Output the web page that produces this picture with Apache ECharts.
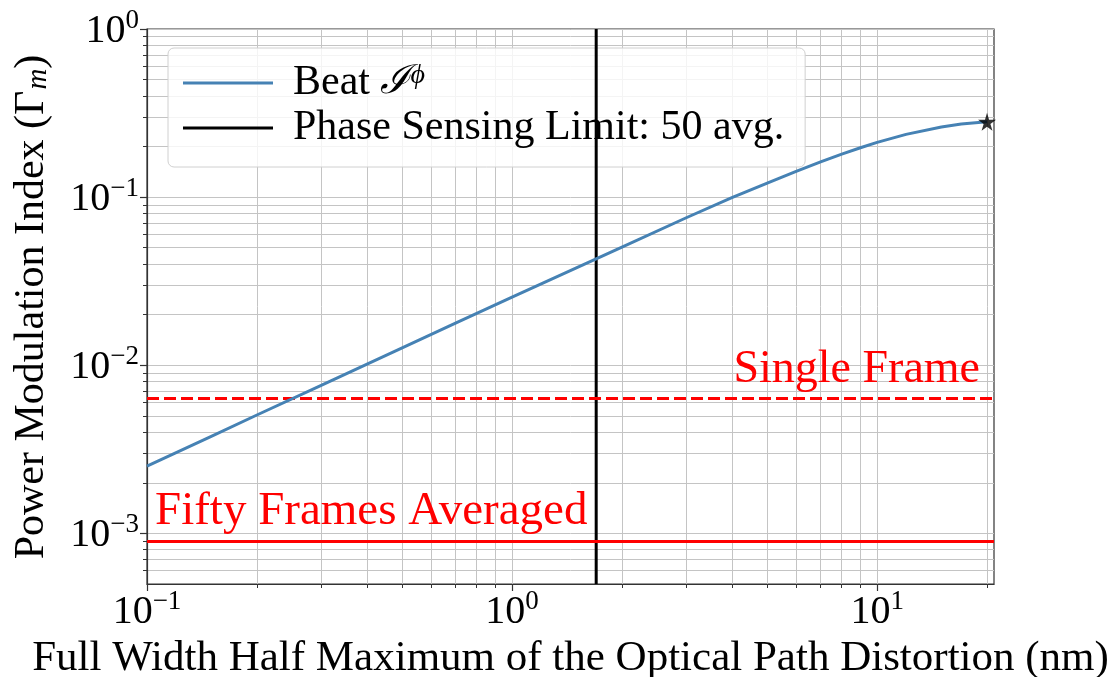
<!DOCTYPE html>
<html><head><meta charset="utf-8">
<script src="https://cdn.jsdelivr.net/npm/echarts@6/dist/echarts.min.js"></script>
<style>html,body{margin:0;padding:0;background:#fff}#c{width:1114px;height:677px}</style>
</head><body><div id="c"></div>
<script>
// ---- data ----
const beatX = [0.1, 0.15, 0.2, 0.3, 0.5, 0.7, 1, 1.5, 2, 3, 4, 5, 6, 7, 8, 9, 10, 12, 15, 17, 20];
const beatY = [0.00251, 0.00378, 0.00506, 0.0076, 0.0127, 0.0178, 0.0254, 0.0380, 0.0504, 0.0754, 0.0992, 0.1212, 0.1423, 0.1620, 0.1803, 0.1967, 0.2117, 0.2361, 0.2616, 0.2723, 0.2804];
const starPoint = [20, 0.2804];
const phaseLimitX = 1.7;
const singleFrameY = 0.00634;
const fiftyFramesY = 0.000903;
const xRange = [0.1, 20.9];
const yRange = [0.0005, 1];
const xMajorTicks = [0.1, 1, 10];
const xMinorTicks = [0.2,0.3,0.4,0.5,0.6,0.7,0.8,0.9,2,3,4,5,6,7,8,9,20];
const yMajorTicks = [0.001, 0.01, 0.1, 1];
const yMinorTicks = [0.0006,0.0007,0.0008,0.0009,0.002,0.003,0.004,0.005,0.006,0.007,0.008,0.009,0.02,0.03,0.04,0.05,0.06,0.07,0.08,0.09,0.2,0.3,0.4,0.5,0.6,0.7,0.8,0.9];
const legendNames = ['Beat', 'Phase Sensing Limit: 50 avg.'];

const FONT = '"Liberation Serif", "DejaVu Serif", serif';
const gridColor = '#c4c4c4';
const spine = '#333333';

function powLabel(v) {
  const e = Math.round(Math.log10(v));
  if (Math.abs(Math.pow(10, e) - v) / v > 1e-6) return '';
  return '{b|10}{s|' + (e < 0 ? '\u2212' + (-e) : e) + '}';
}
const tickRich = {
  b: { fontSize: 40, fontFamily: FONT, color: '#000', lineHeight: 44, verticalAlign: 'bottom' },
  s: { fontSize: 27, fontFamily: FONT, color: '#000', lineHeight: 44, verticalAlign: 'top' }
};

const beatData = beatX.map((x, i) => [x, beatY[i]]);
const chart = echarts.init(document.getElementById('c'), null, { renderer: 'canvas' });
chart.setOption({
  animation: false,
  backgroundColor: '#fff',
  grid: { left: 147, right: 120, top: 29, bottom: 93, containLabel: false, outerBoundsMode: 'none',
    show: true, borderColor: spine, borderWidth: 1.2, backgroundColor: 'transparent' },
  graphic: [{
    type: 'text', silent: true,
    x: 30, y: 307, rotation: Math.PI / 2,
    style: {
      text: '{n|Power Modulation Index (\u0393}{m|m}{n|)}',
      align: 'center', verticalAlign: 'middle',
      fontSize: 42, fontFamily: FONT, fill: '#000',
      rich: {
        n: { fontSize: 42, fontFamily: FONT, fill: '#000', lineHeight: 46, verticalAlign: 'bottom' },
        m: { fontSize: 29, fontFamily: FONT, fontStyle: 'italic', fill: '#000', lineHeight: 46, verticalAlign: 'bottom', padding: [0, 0, 0, 1] }
      }
    }
  }],
  legend: {
    data: [{ name: legendNames[0], icon: 'rect' }, { name: legendNames[1], icon: 'rect' }],
    orient: 'vertical',
    left: 168, top: 48,
    padding: [14, 21, 18, 15],
    itemGap: 3,
    itemWidth: 90, itemHeight: 3,
    backgroundColor: 'rgba(255,255,255,0.82)',
    borderColor: '#d0d0d0', borderWidth: 1, borderRadius: 6,
    textStyle: { fontSize: 42, lineHeight: 42, fontFamily: FONT, color: '#000', padding: [0,0,0,15],
      rich: {
        t: { fontSize: 42, lineHeight: 42, fontFamily: FONT, color: '#000' },
        i: { fontSize: 40, lineHeight: 42, fontFamily: '"DejaVu Serif", serif', fontStyle: 'italic', color: '#000' },
        p: { fontSize: 28, lineHeight: 42, fontFamily: FONT, fontStyle: 'italic', color: '#000', verticalAlign: 'top' }
      } },
    formatter: function (n) { return n === 'Beat' ? '{t|Beat }{i|\u2110}{p|\u03D5}' : n; }
  },
  xAxis: [{
    type: 'log', logBase: 10, min: xRange[0], max: xRange[1],
    position: 'bottom',
    name: 'Full Width Half Maximum of the Optical Path Distortion (nm)',
    nameLocation: 'middle', nameGap: 42,
    nameTextStyle: { fontSize: 43, fontFamily: FONT, color: '#000' },
    axisLine: { show: true, lineStyle: { color: spine, width: 1.2 } },
    axisTick: { show: true, length: 7, customValues: xMajorTicks, lineStyle: { color: spine, width: 1.2 } },
    axisLabel: { customValues: xMajorTicks, formatter: powLabel, rich: tickRich, margin: 4 },
    splitLine: { show: true, lineStyle: { color: gridColor, width: 1 } }
  }, {
    type: 'log', logBase: 10, min: xRange[0], max: xRange[1],
    position: 'bottom',
    axisLine: { show: false },
    axisTick: { show: true, length: 4, customValues: xMinorTicks, lineStyle: { color: spine, width: 1 } },
    axisLabel: { show: false },
    splitLine: { show: true, lineStyle: { color: gridColor, width: 1 } }
  }],
  yAxis: [{
    type: 'log', logBase: 10, min: yRange[0], max: yRange[1],
    position: 'left',
    axisLine: { show: true, lineStyle: { color: spine, width: 1.2 } },
    axisTick: { show: true, length: 7, customValues: yMajorTicks, lineStyle: { color: spine, width: 1.2 } },
    axisLabel: { customValues: yMajorTicks, formatter: powLabel, rich: tickRich, margin: 8 },
    splitLine: { show: true, lineStyle: { color: gridColor, width: 1 } }
  }, {
    type: 'log', logBase: 10, min: yRange[0], max: yRange[1],
    position: 'left',
    axisLine: { show: false },
    axisTick: { show: true, length: 4, customValues: yMinorTicks, lineStyle: { color: spine, width: 1 } },
    axisLabel: { show: false },
    splitLine: { show: true, lineStyle: { color: gridColor, width: 1 } }
  }],
  series: [
    {
      name: 'Beat', type: 'line', xAxisIndex: 0, yAxisIndex: 0,
      data: beatData, smooth: false, symbol: 'none',
      lineStyle: { color: '#4682b4', width: 3, join: 'round' }, itemStyle: { color: '#4682b4' }, z: 5
    },
    {
      name: 'Phase Sensing Limit: 50 avg.', type: 'line', xAxisIndex: 0, yAxisIndex: 0,
      data: [[phaseLimitX, yRange[0]], [phaseLimitX, yRange[1]]], symbol: 'none',
      lineStyle: { color: '#000', width: 3 }, itemStyle: { color: '#000' }, z: 4
    },
    {
      name: 'limits', type: 'line', xAxisIndex: 0, yAxisIndex: 0, data: [], symbol: 'none',
      lineStyle: { color: '#ff0000' }, itemStyle: { color: '#ff0000' },
      markLine: {
        silent: true, symbol: ['none', 'none'], animation: false, precision: 10,
        data: [
          { yAxis: singleFrameY, lineStyle: { color: '#ff0000', width: 3, type: [12, 5] },
            label: { show: true, position: 'insideEndTop', formatter: 'Single Frame', color: '#ff0000', fontSize: 46, fontFamily: FONT, distance: [14, 6] } },
          { yAxis: fiftyFramesY, lineStyle: { color: '#ff0000', width: 3, type: 'solid' },
            label: { show: true, position: 'insideStartTop', formatter: 'Fifty Frames Averaged', color: '#ff0000', fontSize: 47, fontFamily: FONT, distance: [8, 6] } }
        ]
      }, z: 3
    },
    {
      name: 'star', type: 'scatter', xAxisIndex: 0, yAxisIndex: 0,
      data: [starPoint],
      symbol: 'path://M50,0 L61,35 L98,35 L68,57 L79,91 L50,70 L21,91 L32,57 L2,35 L39,35 Z',
      symbolSize: 18, itemStyle: { color: '#000' }, z: 6
    }
  ]
});
</script>
</body></html>
